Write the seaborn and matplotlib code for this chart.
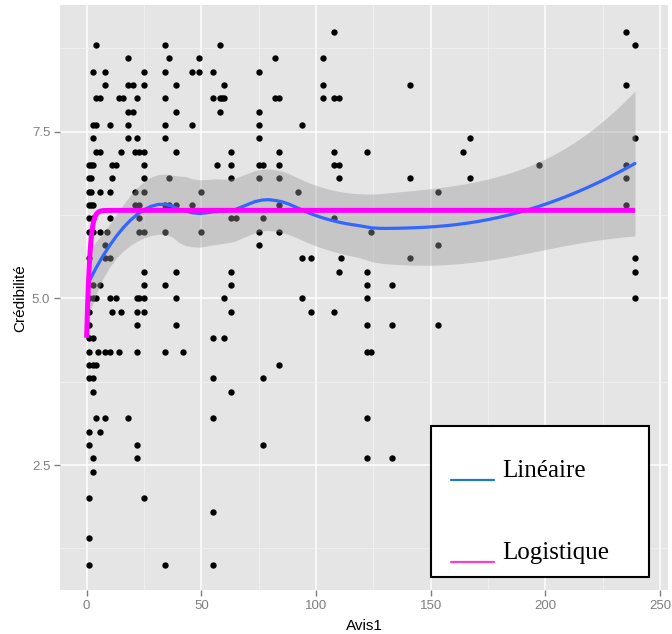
import numpy as np
import pandas as pd
import seaborn as sns
import matplotlib
matplotlib.use("Agg")
import matplotlib.pyplot as plt
from matplotlib.lines import Line2D
from matplotlib.patches import Rectangle
from matplotlib.ticker import MultipleLocator

# Observations: number of reviews (Avis1) and perceived credibility, one line per credibility level
avis1 = [
    108, 235,
    4, 34, 58, 239,
    18, 36, 49, 82, 103,
    3, 8, 25, 34, 46, 49, 55, 75,
    8, 18, 20, 25, 39, 60, 103, 141, 235,
    4, 6, 14, 16, 22, 34, 55, 58, 59, 60, 82, 84, 103, 108, 110,
    18, 20, 39, 58, 75,
    3, 4, 10, 18, 34, 46, 75, 94,
    3, 18, 22, 34, 75, 167, 239,
    4, 6, 15, 21, 23, 25, 39, 63, 84, 108, 122, 164,
    1, 2, 3, 11, 13, 25, 57, 63, 75, 77, 84, 108, 110, 197, 235,
    1, 2, 11, 25, 36, 63, 75, 84, 110, 141, 167, 235,
    1, 2, 6, 10, 21, 25, 50, 92, 153,
    1, 2, 3, 21, 23, 34, 36, 39, 46, 84, 235,
    1, 3, 10, 23, 63, 65, 77, 108,
    1, 2, 3, 6, 9, 23, 25, 34, 50, 75, 84, 124,
    8, 75, 153,
    1, 8, 10, 94, 98, 111, 141, 239,
    25, 39, 63, 110, 122, 239,
    3, 6, 25, 34, 63, 122, 133,
    1, 3, 4, 10, 13, 22, 23, 25, 39, 60, 94, 122, 239,
    1, 11, 15, 22, 25, 63, 98, 108,
    1, 22, 39, 122, 133, 153,
    1, 3, 55, 60,
    1, 5, 8, 10, 14, 22, 34, 42, 122, 124,
    1, 3, 4, 84,
    1, 3, 55, 77,
    3, 63,
    4, 8, 18, 55, 122,
    1, 6,
    1, 22, 77,
    3, 22, 122, 133,
    3,
    1, 25,
    55,
    1,
    1, 34, 55,
]
credibilite = (
    [9.0] * 2 + [8.8] * 4 + [8.6] * 5 + [8.4] * 8 + [8.2] * 9 + [8.0] * 15
    + [7.8] * 5 + [7.6] * 8 + [7.4] * 7 + [7.2] * 12 + [7.0] * 15 + [6.8] * 12
    + [6.6] * 9 + [6.4] * 11 + [6.2] * 8 + [6.0] * 12 + [5.8] * 3 + [5.6] * 8
    + [5.4] * 6 + [5.2] * 7 + [5.0] * 13 + [4.8] * 8 + [4.6] * 6 + [4.4] * 4
    + [4.2] * 10 + [4.0] * 4 + [3.8] * 4 + [3.6] * 2 + [3.2] * 5 + [3.0] * 2
    + [2.8] * 3 + [2.6] * 4 + [2.4] * 1 + [2.0] * 2 + [1.8] * 1 + [1.4] * 1
    + [1.0] * 3
)

# Fitted logistic model parameters
logis_asym, logis_xmid, logis_scal = 6.32, -0.92, 1.1

x_ticks = [0, 50, 100, 150, 200, 250]
y_ticks = [2.5, 5.0, 7.5]
legend_labels = ["Linéaire", "Logistique"]

df = pd.DataFrame({"Avis1": avis1, "Crédibilité": credibilite})


def loess_fit(x, y, x_new, span=0.75):
    """Local quadratic regression with tricube weights and standard errors."""
    x = np.asarray(x, float)
    y = np.asarray(y, float)
    n = len(x)
    q = int(np.floor(n * span))

    def weights_row(x0):
        d = np.abs(x - x0)
        h = np.sort(d)[q - 1]
        u = np.clip(d / h, 0, 1)
        w = (1 - u ** 3) ** 3
        X = np.column_stack([np.ones(n), x - x0, (x - x0) ** 2])
        XtW = X.T * w
        A = XtW @ X
        return np.linalg.solve(A, XtW)[0]

    L = np.array([weights_row(x0) for x0 in x])
    resid = y - L @ y
    M = np.eye(n) - L
    MtM = M.T @ M
    delta1 = np.trace(MtM)
    sigma = np.sqrt(np.sum(resid ** 2) / delta1)
    tq = 1.97
    Lnew = np.array([weights_row(x0) for x0 in x_new])
    fit = Lnew @ y
    se = sigma * np.sqrt(np.sum(Lnew ** 2, axis=1))
    return fit, fit - tq * se, fit + tq * se


grid = np.linspace(min(avis1), max(avis1), 80)
fit, lo, hi = loess_fit(avis1, credibilite, grid)

xl = np.linspace(0, max(avis1), 600)
logis = logis_asym / (1 + np.exp((logis_xmid - xl) / logis_scal))

sns.set_style("darkgrid", {"axes.facecolor": "#E5E5E5", "grid.color": "white"})
plt.rcParams["font.family"] = ["Liberation Sans", "DejaVu Sans"]

fig = plt.figure(figsize=(6.72, 6.34), dpi=100)
ax = fig.add_axes([60 / 672, (634 - 590.4) / 634, 608 / 672, 585.4 / 634])
ax.set_axisbelow(True)

sns.scatterplot(data=df, x="Avis1", y="Crédibilité", color="black", s=21,
                linewidth=0, ax=ax, zorder=2)
ax.fill_between(grid, lo, hi, color="#999999", alpha=0.4, linewidth=0, zorder=3)
sns.lineplot(x=grid, y=fit, color="#3366FF", linewidth=2.3, ax=ax, zorder=4)
ax.plot(xl, logis, color="#FF00FF", linewidth=3.6, zorder=5, solid_capstyle="butt")

ax.set_xlim(-11.6, 253.4)
ax.set_ylim(0.62, 9.4)
ax.set_xticks(x_ticks)
ax.set_xticklabels([str(t) for t in x_ticks])
ax.set_yticks(y_ticks)
ax.set_yticklabels([f"{t:.1f}" for t in y_ticks])
ax.xaxis.set_minor_locator(MultipleLocator(25))
ax.yaxis.set_minor_locator(MultipleLocator(1.25))
ax.grid(which="major", color="white", linewidth=1.1)
ax.grid(which="minor", color="#F2F2F2", linewidth=0.6)
ax.tick_params(which="minor", length=0)
ax.tick_params(which="major", length=4, width=1, color="#7F7F7F",
               labelcolor="#7F7F7F", labelsize=9.5, pad=3, bottom=True, left=True)
for s in ax.spines.values():
    s.set_visible(False)

ax.set_xlabel("Avis1", fontsize=11, color="black", labelpad=5)
ax.set_ylabel("Crédibilité", fontsize=11, color="black", labelpad=3)

# Framed key in the lower right corner
W, H = 672, 634
fig.add_artist(Rectangle((431 / W, 1 - 577 / H), (649 - 431) / W, (577 - 426) / H,
                         transform=fig.transFigure, facecolor="white",
                         edgecolor="black", linewidth=1.5, zorder=10))
for yl, yt, col, lab in [(480, 476.7, "#1F78C8", legend_labels[0]),
                         (562, 559, "#FF3CC8", legend_labels[1])]:
    fig.add_artist(Line2D([451 / W, 494 / W], [1 - yl / H] * 2, transform=fig.transFigure,
                          color=col, linewidth=1.6, zorder=11))
    fig.text(502 / W, 1 - yt / H, lab, fontsize=18, family=["Liberation Serif"],
             va="baseline", ha="left", color="black", zorder=11)

fig.savefig("out.png", dpi=100)
